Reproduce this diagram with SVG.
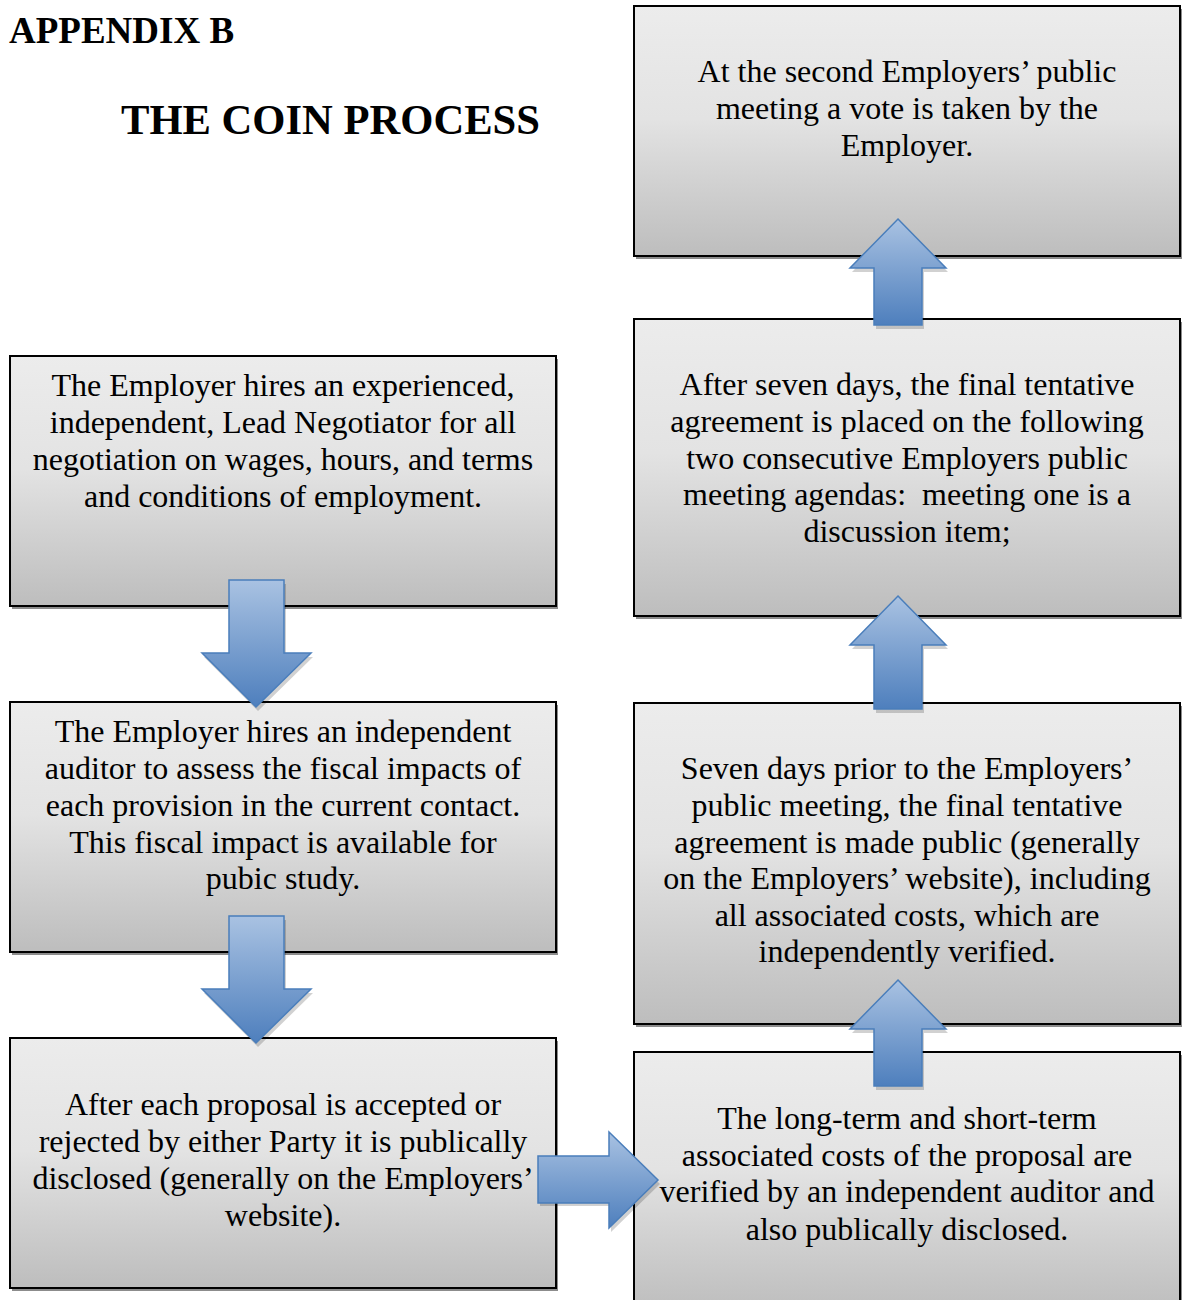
<svg xmlns="http://www.w3.org/2000/svg" width="1183" height="1300" viewBox="0 0 1183 1300">
<defs>
<linearGradient id="boxg" x1="0" y1="0" x2="0" y2="1">
<stop offset="0" stop-color="#ececec"/>
<stop offset="0.45" stop-color="#e3e3e3"/>
<stop offset="1" stop-color="#bdbdbd"/>
</linearGradient>
<linearGradient id="arrv" x1="0" y1="0" x2="0" y2="1">
<stop offset="0" stop-color="#a9c2e2"/>
<stop offset="1" stop-color="#4e7fbd"/>
</linearGradient>
<linearGradient id="arrh" x1="0" y1="0" x2="0" y2="1">
<stop offset="0" stop-color="#a9c2e2"/>
<stop offset="1" stop-color="#4e7fbd"/>
</linearGradient>
<style>
.box{fill:url(#boxg);stroke:#000;stroke-width:2}
.sh{fill:#8c8c8c}
.t{font-family:"Liberation Serif","Times New Roman",serif;font-size:32px;fill:#000;text-anchor:middle}
.arr{stroke:#4a7ebb;stroke-width:1.5;stroke-linejoin:miter}
.ash{fill:#000;opacity:0.18}
.h{font-family:"Liberation Serif","Times New Roman",serif;font-weight:bold;fill:#000}
</style>
</defs>
<rect width="1183" height="1300" fill="#fff"/>
<text class="h" x="9" y="43" font-size="37">APPENDIX B</text>
<text class="h" x="121" y="134" font-size="42.6">THE COIN PROCESS</text>

<g id="node-lead-negotiator">
<rect class="sh" x="12" y="359" width="546" height="250"/>
<rect class="box" x="10" y="356" width="546" height="250"/>
<text class="t" x="283" y="396">The Employer hires an experienced,</text>
<text class="t" x="283" y="433">independent, Lead Negotiator for all</text>
<text class="t" x="283" y="470">negotiation on wages, hours, and terms</text>
<text class="t" x="283" y="507">and conditions of employment.</text>
</g>
<g id="node-auditor">
<rect class="sh" x="12" y="705" width="546" height="250"/>
<rect class="box" x="10" y="702" width="546" height="250"/>
<text class="t" x="283" y="742">The Employer hires an independent</text>
<text class="t" x="283" y="779">auditor to assess the fiscal impacts of</text>
<text class="t" x="283" y="816">each provision in the current contact.</text>
<text class="t" x="283" y="853">This fiscal impact is available for</text>
<text class="t" x="283" y="889">pubic study.</text>
</g>
<g id="node-proposal">
<rect class="sh" x="12" y="1041" width="546" height="250"/>
<rect class="box" x="10" y="1038" width="546" height="250"/>
<text class="t" x="283" y="1115">After each proposal is accepted or</text>
<text class="t" x="283" y="1152">rejected by either Party it is publically</text>
<text class="t" x="283" y="1189">disclosed (generally on the Employers’</text>
<text class="t" x="283" y="1226">website).</text>
</g>
<g id="node-vote">
<rect class="sh" x="636" y="9" width="546" height="250"/>
<rect class="box" x="634" y="6" width="546" height="250"/>
<text class="t" x="907" y="82">At the second Employers’ public</text>
<text class="t" x="907" y="119">meeting a vote is taken by the</text>
<text class="t" x="907" y="156">Employer.</text>
</g>
<g id="node-agendas">
<rect class="sh" x="636" y="322" width="546" height="297"/>
<rect class="box" x="634" y="319" width="546" height="297"/>
<text class="t" x="907" y="395">After seven days, the final tentative</text>
<text class="t" x="907" y="432">agreement is placed on the following</text>
<text class="t" x="907" y="469">two consecutive Employers public</text>
<text class="t" x="907" y="505" xml:space="preserve">meeting agendas:  meeting one is a</text>
<text class="t" x="907" y="542">discussion item;</text>
</g>
<g id="node-public">
<rect class="sh" x="636" y="706" width="546" height="321"/>
<rect class="box" x="634" y="703" width="546" height="321"/>
<text class="t" x="907" y="779">Seven days prior to the Employers’</text>
<text class="t" x="907" y="816">public meeting, the final tentative</text>
<text class="t" x="907" y="853">agreement is made public (generally</text>
<text class="t" x="907" y="889">on the Employers’ website), including</text>
<text class="t" x="907" y="926">all associated costs, which are</text>
<text class="t" x="907" y="962">independently verified.</text>
</g>
<g id="node-costs">
<rect class="sh" x="636" y="1055" width="546" height="260"/>
<rect class="box" x="634" y="1052" width="546" height="260"/>
<text class="t" x="907" y="1129">The long-term and short-term</text>
<text class="t" x="907" y="1166">associated costs of the proposal are</text>
<text class="t" x="907" y="1202">verified by an independent auditor and</text>
<text class="t" x="907" y="1240">also publically disclosed.</text>
</g>

<g id="connectors">
<g id="arrow-1">
<polygon class="ash" points="231,584 286,584 286,657 313,657 258,711 204,657 231,657"/>
<polygon class="arr" fill="url(#arrv)" points="229,580 284,580 284,653 311,653 256,707 202,653 229,653"/>
</g>
<g id="arrow-2">
<polygon class="ash" points="231,920 286,920 286,993 313,993 258,1047 204,993 231,993"/>
<polygon class="arr" fill="url(#arrv)" points="229,916 284,916 284,989 311,989 256,1043 202,989 229,989"/>
</g>
<g id="arrow-3">
<polygon class="ash" points="540,1159 611,1159 611,1136 660,1184 611,1232 611,1206 540,1206"/>
<polygon class="arr" fill="url(#arrh)" points="538,1156 609,1156 609,1132 658,1180 609,1228 609,1203 538,1203"/>
</g>
<g id="arrow-4">
<polygon class="ash" points="900,984 948,1033 924,1033 924,1090 876,1090 876,1033 852,1033"/>
<polygon class="arr" fill="url(#arrv)" points="898,980 946,1029 922,1029 922,1086 874,1086 874,1029 850,1029"/>
</g>
<g id="arrow-5">
<polygon class="ash" points="900,600 948,649 924,649 924,713 876,713 876,649 852,649"/>
<polygon class="arr" fill="url(#arrv)" points="898,596 946,645 922,645 922,709 874,709 874,645 850,645"/>
</g>
<g id="arrow-6">
<polygon class="ash" points="900,223 948,272 924,272 924,329 876,329 876,272 852,272"/>
<polygon class="arr" fill="url(#arrv)" points="898,219 946,268 922,268 922,325 874,325 874,268 850,268"/>
</g>
</g>
</svg>
